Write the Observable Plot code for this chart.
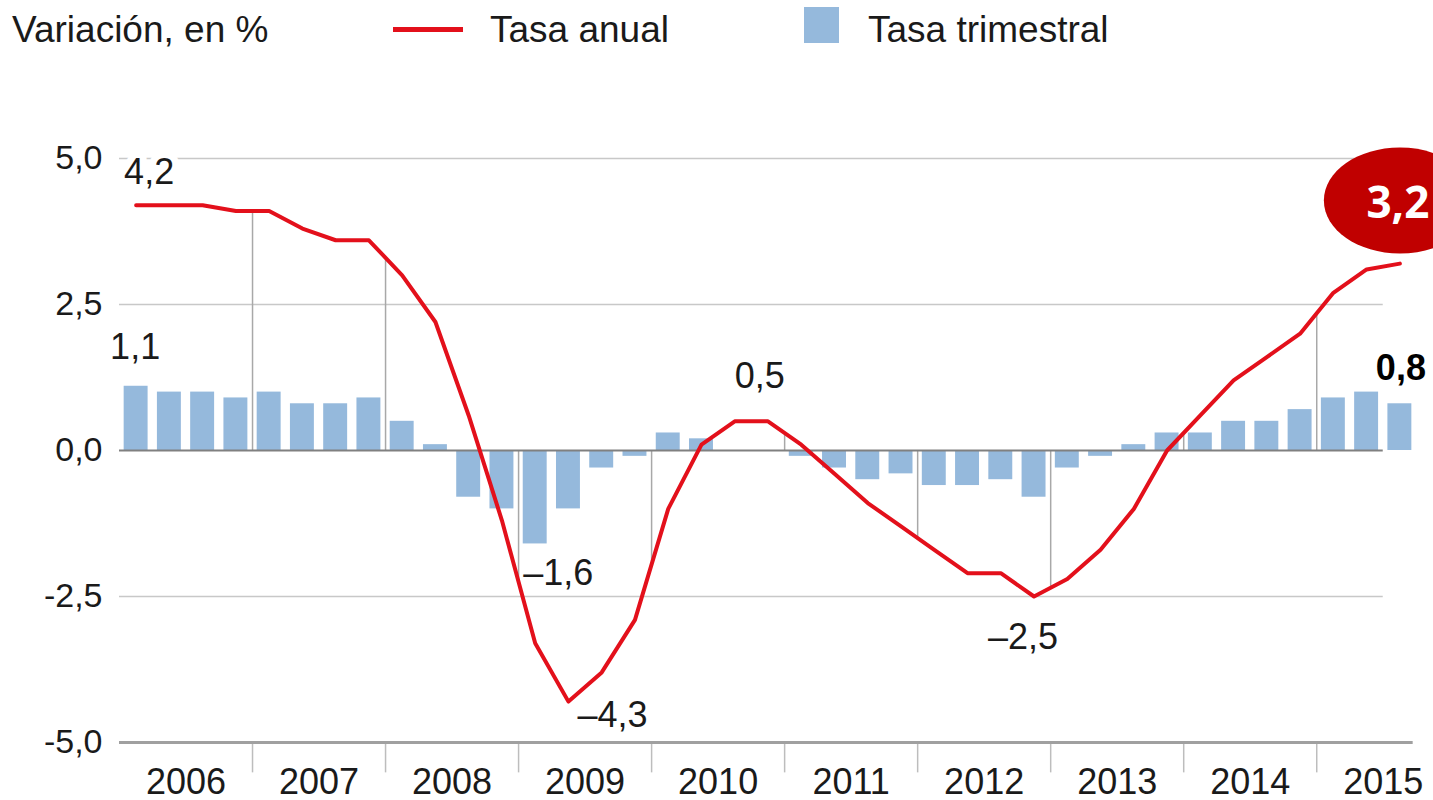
<!DOCTYPE html>
<html>
<head>
<meta charset="utf-8">
<script src="https://cdn.jsdelivr.net/npm/d3@7"></script>
<script src="https://cdn.jsdelivr.net/npm/@observablehq/plot@0.6"></script>
<style>
  html, body { margin: 0; padding: 0; background: #fff; }
  body { width: 1433px; height: 800px; overflow: hidden; font-family: "Liberation Sans", Arial, sans-serif; color: #1a1a1a; }
  #legend { position: relative; height: 70px; width: 1433px; }
  #legend .t { position: absolute; top: 11px; font-size: 37px; line-height: 37px; white-space: nowrap; }
  #legend .ln { position: absolute; left: 393px; top: 27px; width: 70px; height: 5px; background: #e3101b; }
  #legend .sq { position: absolute; left: 804px; top: 7px; width: 35px; height: 36px; background: #95b9dc; }
  #chart svg { display: block; }
</style>
</head>
<body>
<div id="legend">
  <span class="t" style="left:12px">Variación, en %</span>
  <span class="ln"></span>
  <span class="t" style="left:490px">Tasa anual</span>
  <span class="sq"></span>
  <span class="t" style="left:868px">Tasa trimestral</span>
</div>
<div id="chart"></div>
<script>
// ---- data ----
const years = [2006, 2007, 2008, 2009, 2010, 2011, 2012, 2013, 2014, 2015];
// Tasa anual (annual rate, %), quarterly from 2006 Q1 to 2015 Q3
const annual = [4.2, 4.2, 4.2, 4.1, 4.1, 3.8, 3.6, 3.6, 3.0, 2.2, 0.6, -1.2,
  -3.3, -4.3, -3.8, -2.9, -1.0, 0.1, 0.5, 0.5, 0.1, -0.4, -0.9, -1.3,
  -1.7, -2.1, -2.1, -2.5, -2.2, -1.7, -1.0, 0.0, 0.6, 1.2, 1.6, 2.0,
  2.7, 3.1, 3.2];
// Tasa trimestral (quarterly rate, %)
const quarterly = [1.1, 1.0, 1.0, 0.9, 1.0, 0.8, 0.8, 0.9, 0.5, 0.1, -0.8, -1.0,
  -1.6, -1.0, -0.3, -0.1, 0.3, 0.2, 0.0, 0.0, -0.1, -0.3, -0.5, -0.4,
  -0.6, -0.6, -0.5, -0.8, -0.3, -0.1, 0.1, 0.3, 0.3, 0.5, 0.5, 0.7,
  0.9, 1.0, 0.8];
const yTicks = [-5, -2.5, 0, 2.5, 5];
const yTickLabels = ["-5,0", "-2,5", "0,0", "2,5", "5,0"];
const gridValues = [5, 2.5, -2.5];

// ---- helpers ----
const fmt = v => (v < 0 ? "\u2013" : "") + Math.abs(v).toFixed(1).replace(".", ",");
const pts = annual.map((v, i) => ({i, v}));
const bars = quarterly.map((v, i) => ({i, v}));
const boundaries = years.slice(1).map((y, k) => (k + 1) * 4);
const lastQ = annual.length - 1;

const ellipse = {
  draw(ctx) {
    const rx = 76, ry = 53, k = 0.5523;
    ctx.moveTo(rx, 0);
    ctx.bezierCurveTo(rx, ry * k, rx * k, ry, 0, ry);
    ctx.bezierCurveTo(-rx * k, ry, -rx, ry * k, -rx, 0);
    ctx.bezierCurveTo(-rx, -ry * k, -rx * k, -ry, 0, -ry);
    ctx.bezierCurveTo(rx * k, -ry, rx, -ry * k, rx, 0);
    ctx.closePath();
  }
};

const lab = (arr, idx, opts) => Plot.text(arr.filter(d => d.i === idx), {
  x: d => d.i + 0.5, y: "v", text: d => fmt(d.v), lineAnchor: "bottom",
  fill: "#1a1a1a", fontSize: 36, ...opts
});

const chart = Plot.plot({
  width: 1433,
  height: 730,
  marginTop: 88,
  marginBottom: 58,
  marginLeft: 119,
  marginRight: 17,
  x: {domain: [0, 39], axis: null},
  y: {domain: [-5, 5], axis: null},
  style: {fontFamily: "'Liberation Sans', Arial, sans-serif", fontSize: "36px", color: "#1a1a1a", background: "#fff", overflow: "visible"},
  marks: [
    Plot.ruleY(gridValues, {x1: 0, x2: 38, stroke: "#c8c8c8", strokeWidth: 1.5}),
    Plot.ruleX(boundaries, {x: d => d, y1: 0, y2: d => (annual[d - 1] + annual[d]) / 2, stroke: "#a8a8a8", strokeWidth: 1.5}),
    Plot.ruleX(boundaries, {x: d => d, y1: -5, y2: -5.52, stroke: "#bdbdbd", strokeWidth: 1.5}),
    Plot.ruleY([-5], {x1: 0, x2: 38.9, stroke: "#a0a0a0", strokeWidth: 3}),
    Plot.rect(bars, {x1: d => d.i + 0.14, x2: d => d.i + 0.86, y1: 0, y2: "v", fill: "#95b9dc"}),
    Plot.ruleY([0], {x1: 0, x2: 38, stroke: "#808080", strokeWidth: 2}),
    Plot.line(pts, {x: d => d.i + 0.5, y: "v", stroke: "#e3101b", strokeWidth: 4}),
    Plot.axisY({ticks: yTicks, tickFormat: d => yTickLabels[yTicks.indexOf(d)], tickSize: 0, tickPadding: 17, fontSize: 34, fill: "#1a1a1a", label: null}),
    Plot.text(years, {x: (d, k) => k * 4 + 2, text: d => String(d), frameAnchor: "bottom", lineAnchor: "bottom", dy: 51, fontSize: 36, fill: "#1a1a1a"}),
    // value labels
    lab(pts, 0, {dx: 13, dy: -21, stroke: "#fff", strokeWidth: 14}),
    lab(bars, 0, {dx: -1, dy: -27}),
    lab(bars, 12, {dx: -12, dy: 41, textAnchor: "start"}),
    lab(pts, 13, {dx: 9, dy: 25, textAnchor: "start"}),
    lab(pts, 18, {dx: 25, dy: -33}),
    lab(pts, 27, {dx: -11, dy: 52}),
    lab(bars, lastQ, {dx: 1, dy: -24, fontWeight: "bold", fill: "#000"}),
    Plot.dot(pts.filter(d => d.i === lastQ), {x: d => d.i + 0.5, y: "v", dy: -63, symbol: ellipse, fill: "#c00000", stroke: "none"}),
    Plot.text(pts.filter(d => d.i === lastQ), {x: d => d.i + 0.5, y: "v", text: d => fmt(d.v), dy: -46, dx: -2, lineAnchor: "bottom", fill: "#fff", fontWeight: "bold", fontSize: 44, fontFamily: "'Open Sans', 'Noto Sans', sans-serif"})
  ]
});
document.getElementById("chart").appendChild(chart);
</script>
</body>
</html>
